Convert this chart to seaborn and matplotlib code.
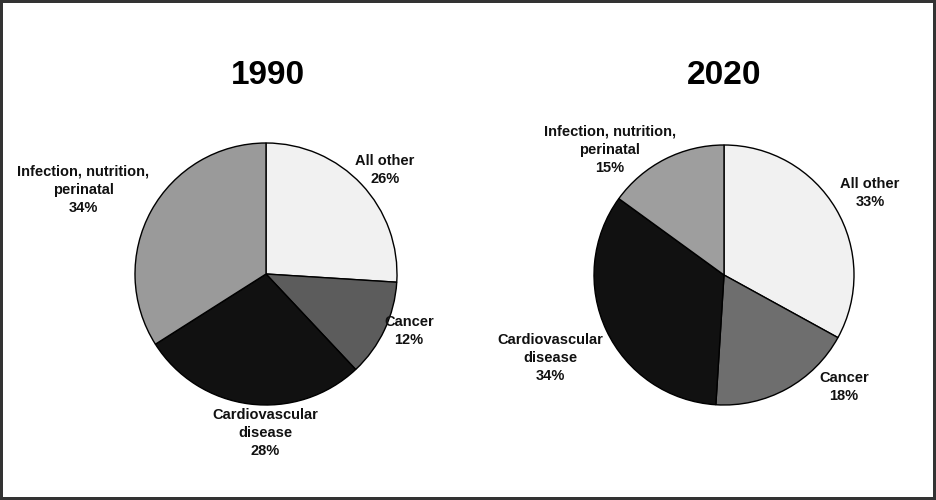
import matplotlib
matplotlib.use("Agg")
import matplotlib.pyplot as plt
import seaborn as sns

sns.set_theme(style="white")
plt.rcParams['font.family'] = ['Liberation Sans', 'DejaVu Sans']

# data
categories = ["All other", "Cancer", "Cardiovascular\ndisease", "Infection, nutrition,\nperinatal"]
share_1990 = [26, 12, 28, 34]
share_2020 = [33, 18, 34, 15]
years = ["1990", "2020"]

colors_1990 = ["#f1f1f1", "#5c5c5c", "#111111", "#9a9a9a"]
colors_2020 = ["#f1f1f1", "#6e6e6e", "#111111", "#9e9e9e"]

W, H = 936, 500
fig = plt.figure(figsize=(W / 100, H / 100), dpi=100)
ax = fig.add_axes([0, 0, 1, 1])
ax.set_xlim(0, W)
ax.set_ylim(0, H)
ax.set_aspect("equal")
ax.axis("off")

pies = [
    dict(vals=share_1990, cols=colors_1990, center=(266, H - 274), r=131, title_x=268,
         label_pos=[(385, 170), (409, 331), (265, 433), (83, 190)]),
    dict(vals=share_2020, cols=colors_2020, center=(724, H - 275), r=130, title_x=724,
         label_pos=[(870, 193), (844, 387), (550, 358), (610, 150)]),
]

for year, p in zip(years, pies):
    ax.pie(p["vals"], colors=p["cols"], startangle=90, counterclock=False,
           center=p["center"], radius=p["r"],
           wedgeprops=dict(edgecolor="black", linewidth=1.0))
    t = ax.text(p["title_x"], H - 75, year, ha="center", va="center",
                fontsize=24, fontweight="bold", color="black")
    t.set_fontstretch("condensed")
    for cat, v, (x, y) in zip(categories, p["vals"], p["label_pos"]):
        ax.text(x, H - y, f"{cat}\n{v}%", ha="center", va="center",
                fontsize=10.5, fontweight="bold", color="#111111", linespacing=1.4)

# restore limits after pie
ax.set_xlim(0, W)
ax.set_ylim(0, H)

fig.patch.set_edgecolor("#333333")
fig.patch.set_linewidth(3)
fig.savefig("out.png", dpi=100, edgecolor=fig.get_edgecolor())
